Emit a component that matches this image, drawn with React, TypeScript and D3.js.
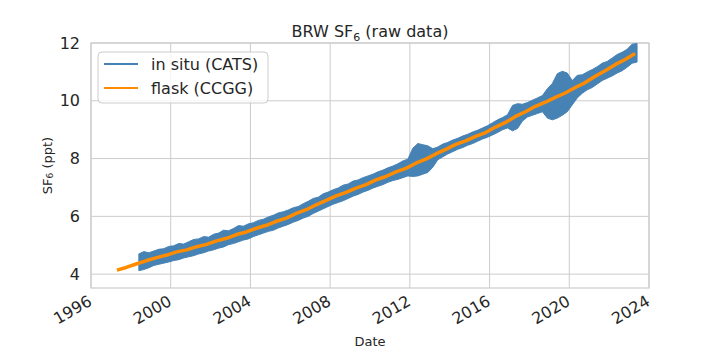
import React from 'react';
import { scaleTime, scaleLinear, area, line } from 'd3';

// in situ (CATS): envelope of the raw record, sampled every quarter year from 1998.40
const catsStart = 1998.4;
const catsStep = 0.25;
const catsHigh = [
  4.70, 4.78, 4.74, 4.80, 4.86, 4.88, 4.96, 4.98, 5.06, 5.04,
  5.12, 5.20, 5.22, 5.30, 5.28, 5.38, 5.42, 5.52, 5.50, 5.58,
  5.68, 5.66, 5.74, 5.78, 5.86, 5.90, 5.98, 6.04, 6.12, 6.16,
  6.22, 6.30, 6.34, 6.44, 6.52, 6.62, 6.66, 6.78, 6.84, 6.92,
  6.98, 7.08, 7.12, 7.22, 7.26, 7.34, 7.40, 7.46, 7.54, 7.60,
  7.68, 7.74, 7.82, 7.92, 7.98, 8.36, 8.52, 8.48, 8.44, 8.34,
  8.40, 8.50, 8.56, 8.64, 8.70, 8.78, 8.84, 8.92, 8.98, 9.06,
  9.14, 9.24, 9.34, 9.42, 9.52, 9.84, 9.90, 9.88, 9.94, 10.02,
  10.10, 10.18, 10.42, 10.60, 10.94, 11.02, 10.96, 10.70, 10.88, 10.90,
  11.00, 11.08, 11.18, 11.30, 11.36, 11.48, 11.60, 11.68, 11.78, 11.96,
  11.98,
];
const catsLow = [
  4.12, 4.16, 4.22, 4.30, 4.34, 4.38, 4.42, 4.47, 4.50, 4.56,
  4.60, 4.64, 4.70, 4.74, 4.80, 4.84, 4.90, 4.94, 5.02, 5.06,
  5.12, 5.18, 5.22, 5.30, 5.36, 5.42, 5.48, 5.52, 5.60, 5.66,
  5.72, 5.80, 5.86, 5.94, 6.00, 6.10, 6.18, 6.26, 6.34, 6.42,
  6.48, 6.54, 6.62, 6.70, 6.76, 6.84, 6.90, 6.98, 7.04, 7.10,
  7.18, 7.24, 7.28, 7.34, 7.40, 7.38, 7.40, 7.46, 7.52, 7.70,
  7.96, 8.06, 8.16, 8.24, 8.32, 8.38, 8.46, 8.52, 8.60, 8.68,
  8.74, 8.82, 8.90, 9.00, 9.06, 8.96, 9.04, 9.30, 9.44, 9.50,
  9.56, 9.62, 9.40, 9.34, 9.40, 9.50, 9.62, 9.86, 10.10, 10.26,
  10.38, 10.46, 10.58, 10.70, 10.78, 10.86, 10.96, 11.04, 11.16, 11.30,
  11.34,
];

// flask (CCGG): every half year from 1997.3
const flaskStart = 1997.3;
const flaskStep = 0.5;
const flaskValues = [
  4.14, 4.24, 4.36, 4.47, 4.57, 4.66, 4.77, 4.84, 4.95, 5.03,
  5.15, 5.24, 5.37, 5.46, 5.59, 5.69, 5.83, 5.94, 6.10, 6.23,
  6.40, 6.55, 6.71, 6.83, 6.98, 7.10, 7.26, 7.38, 7.54, 7.66,
  7.84, 7.98, 8.16, 8.32, 8.49, 8.61, 8.77, 8.90, 9.09, 9.25,
  9.46, 9.62, 9.81, 9.95, 10.12, 10.27, 10.46, 10.63, 10.85, 11.04,
  11.25, 11.43, 11.64,
];

const xTicks = [1996, 2000, 2004, 2008, 2012, 2016, 2020, 2024];
const yTicks = [4, 6, 8, 10, 12];

const font = '"DejaVu Sans", sans-serif';
const textColor = '#262626';
const gridColor = '#cccccc';

const toDate = (y: number) => {
  const yr = Math.floor(y);
  const start = new Date(yr, 0, 1).getTime();
  const end = new Date(yr + 1, 0, 1).getTime();
  return new Date(start + (y - yr) * (end - start));
};

export default function App() {
  const width = 720;
  const height = 360;
  const margin = { left: 91, right: 71, top: 43, bottom: 72 };
  const innerW = width - margin.left - margin.right;
  const innerH = height - margin.top - margin.bottom;

  const x = scaleTime()
    .domain([toDate(1996), toDate(2024)])
    .range([0, innerW]);
  const y = scaleLinear().domain([3.52, 12]).range([innerH, 0]);

  const cats = catsHigh.map((h, i) => ({ t: catsStart + i * catsStep, hi: h, lo: catsLow[i] }));
  const flask = flaskValues.map((v, i) => ({ t: flaskStart + i * flaskStep, v }));

  const band = area<{ t: number; hi: number; lo: number }>()
    .x(d => x(toDate(d.t)))
    .y0(d => y(d.lo))
    .y1(d => y(d.hi));
  const flaskLine = line<{ t: number; v: number }>()
    .x(d => x(toDate(d.t)))
    .y(d => y(d.v));

  return (
    <svg width={width} height={height} style={{ position: 'absolute', left: 0, top: 0, background: '#fff' }}>
      <text x={margin.left + innerW / 2} y={37} textAnchor="middle" fontFamily={font} fontSize={16} fill={textColor}>
        BRW SF<tspan dy={4} fontSize={11}>6</tspan><tspan dy={-4}> (raw data)</tspan>
      </text>
      <g transform={`translate(${margin.left}, ${margin.top})`}>
        {xTicks.map(t => (
          <line key={'gx' + t} x1={x(toDate(t))} x2={x(toDate(t))} y1={0} y2={innerH} stroke={gridColor} strokeWidth={1} />
        ))}
        {yTicks.map(t => (
          <line key={'gy' + t} x1={0} x2={innerW} y1={y(t)} y2={y(t)} stroke={gridColor} strokeWidth={1} />
        ))}
        <rect x={0} y={0} width={innerW} height={innerH} fill="none" stroke={gridColor} strokeWidth={1.2} />

        <path d={band(cats) || ''} fill="#4682b4" stroke="#4682b4" strokeWidth={1} strokeLinejoin="round" />
        <path d={flaskLine(flask) || ''} fill="none" stroke="#ff8c00" strokeWidth={3.5} strokeLinejoin="round" />

        {yTicks.map(t => (
          <text key={'ty' + t} x={-11} y={y(t)} textAnchor="end" dominantBaseline="central" fontFamily={font} fontSize={16} fill={textColor}>
            {t}
          </text>
        ))}
        {xTicks.map(t => (
          <text key={'tx' + t} transform={`translate(${x(toDate(t)) - 4}, ${innerH + 6}) rotate(-30)`}
            textAnchor="end" dominantBaseline="hanging" fontFamily={font} fontSize={16} fill={textColor}>
            {t}
          </text>
        ))}
        <text x={innerW / 2} y={innerH + 58} textAnchor="middle" fontFamily={font} fontSize={13} fill={textColor}>Date</text>
        <text transform={`translate(${-44}, ${innerH / 2}) rotate(-90)`} textAnchor="middle" dominantBaseline="central"
          fontFamily={font} fontSize={13} fill={textColor}>
          SF<tspan dy={3} fontSize={9}>6</tspan><tspan dy={-3}> (ppt)</tspan>
        </text>

        <g transform="translate(7, 9)">
          <rect x={0} y={0} width={170} height={51} rx={4} fill="#fff" fillOpacity={0.8} stroke={gridColor} strokeWidth={1} />
          <line x1={6} x2={40} y1={12} y2={12} stroke="#4682b4" strokeWidth={1.8} />
          <text x={53} y={12} dominantBaseline="central" fontFamily={font} fontSize={16} fill={textColor}>in situ (CATS)</text>
          <line x1={6} x2={40} y1={36} y2={36} stroke="#ff8c00" strokeWidth={1.8} />
          <text x={53} y={36} dominantBaseline="central" fontFamily={font} fontSize={16} fill={textColor}>flask (CCGG)</text>
        </g>
      </g>
    </svg>
  );
}
